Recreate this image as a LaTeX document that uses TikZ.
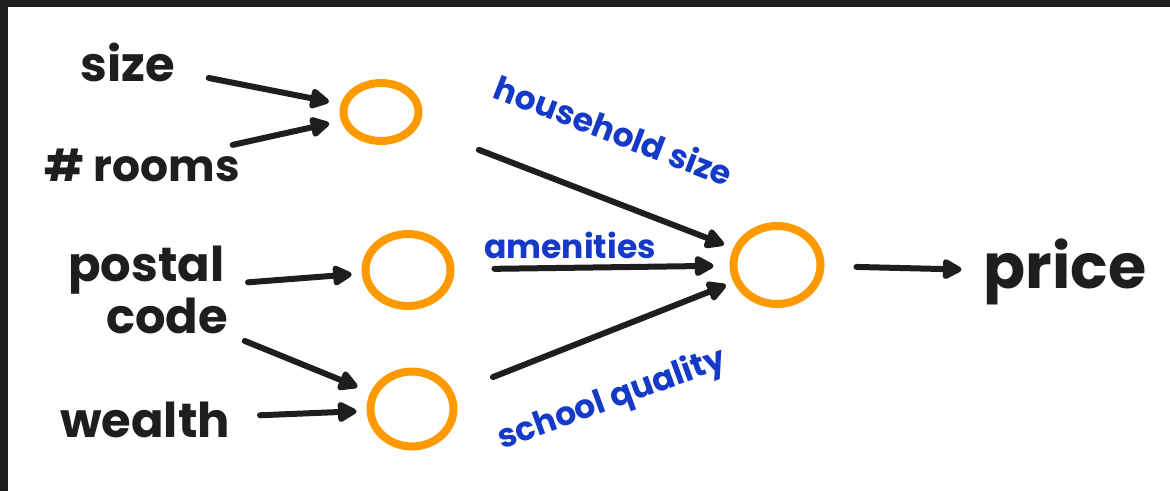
\documentclass[tikz,border=0pt]{standalone}
\usepackage{fontspec}
\setmainfont{Poppins}
\usetikzlibrary{arrows.meta,shapes.geometric}
\definecolor{inkblack}{RGB}{30,30,30}
\definecolor{unitorange}{RGB}{255,153,0}
\definecolor{noteblue}{RGB}{22,58,200}

\tikzset{
  feature/.style={font=\fontsize{48}{52}\selectfont\bfseries, text=inkblack, inner sep=0pt},
  unit/.style={draw=unitorange, line width=8pt, ellipse, inner sep=0pt},
  link/.style={draw=inkblack, line width=6pt, line cap=round,
    -{Triangle[length=22pt,width=22pt,round]}},
  note/.style={font=\fontsize{33}{36}\selectfont\bfseries, text=noteblue, inner sep=0pt},
}

\begin{document}
\begin{tikzpicture}[x=1pt,y=-1pt]
  % page with the dark strip on top and left
  \useasboundingbox (0,0) rectangle (1170,491);
  \fill[white] (0,0) rectangle (1170,491);
  \fill[inkblack] (0,0) rectangle (1170,7);
  \fill[inkblack] (0,0) rectangle (8,491);

  % input features
  \node[feature] (size) at (128,62) {size};
  \node[feature, font=\fontsize{44}{48}\selectfont\bfseries] (rooms) at (142,165) {\# rooms};
  \node[feature, align=left] (postal) at (148,290) {postal\\\hspace*{38pt}code};
  \node[feature] (wealth) at (145,420) {wealth};

  % hidden units and output unit
  \node[unit, minimum width=75pt, minimum height=58pt] (h1) at (381,112) {};
  \node[unit, minimum width=85pt, minimum height=72pt] (h2) at (408,270) {};
  \node[unit, minimum width=83pt, minimum height=75pt] (h3) at (412,409) {};
  \node[unit, minimum width=87pt, minimum height=78pt] (out) at (777,265) {};
  \node[feature, font=\fontsize{62}{64}\selectfont\bfseries] (price) at (1065,272) {price};

  % inputs to hidden layer
  \draw[link, shorten <=34pt, shorten >=12pt] (size) -- (h1);
  \draw[link, shorten <=16pt, shorten >=12pt] (rooms) -- (h1);
  \draw[link, shorten <=20pt, shorten >=10pt] (postal) -- (h2);
  \draw[link, shorten <=18pt, shorten >=14pt] (postal.south east) -- (h3);
  \draw[link, shorten <=30pt, shorten >=10pt] (wealth) -- (h3);

  % hidden layer to output
  \draw[link, shorten <=65pt, shorten >=10pt] (h1) -- (out);
  \draw[link, shorten <=40pt, shorten >=16pt] (h2) -- (out);
  \draw[link, shorten <=42pt, shorten >=8pt] (h3) -- (out);
  \draw[link, shorten <=32pt, shorten >=22pt] (out) -- (price);

  % what each hidden unit stands for
  \node[note, rotate=-21] (hsize) at (614,130) {household size};
  \node[note] (amen) at (570,245) {amenities};
  \node[note, rotate=20] (school) at (612,400) {school quality};
\end{tikzpicture}
\end{document}
